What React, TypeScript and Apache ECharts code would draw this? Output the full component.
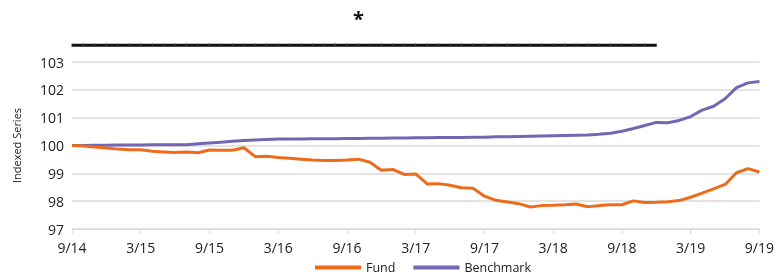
import React, { useEffect, useRef } from "react";
import * as echarts from "echarts";

const months: string[] = [
  "9/14", "10/14", "11/14", "12/14",
  "1/15", "2/15", "3/15", "4/15", "5/15", "6/15", "7/15", "8/15", "9/15", "10/15", "11/15", "12/15",
  "1/16", "2/16", "3/16", "4/16", "5/16", "6/16", "7/16", "8/16", "9/16", "10/16", "11/16", "12/16",
  "1/17", "2/17", "3/17", "4/17", "5/17", "6/17", "7/17", "8/17", "9/17", "10/17", "11/17", "12/17",
  "1/18", "2/18", "3/18", "4/18", "5/18", "6/18", "7/18", "8/18", "9/18", "10/18", "11/18", "12/18",
  "1/19", "2/19", "3/19", "4/19", "5/19", "6/19", "7/19", "8/19", "9/19",
];

const fund: number[] = [
  100.0, 99.98, 99.95, 99.91, 99.87, 99.85, 99.85, 99.79, 99.77, 99.75,
  99.77, 99.74, 99.84, 99.83, 99.83, 99.92, 99.6, 99.61, 99.57, 99.54,
  99.51, 99.48, 99.46, 99.46, 99.48, 99.51, 99.4, 99.11, 99.14, 98.96,
  98.98, 98.62, 98.63, 98.57, 98.48, 98.46, 98.18, 98.03, 97.97, 97.91,
  97.79, 97.84, 97.85, 97.87, 97.9, 97.8, 97.84, 97.87, 97.87, 98.01,
  97.95, 97.96, 97.98, 98.02, 98.14, 98.29, 98.44, 98.6, 99.02, 99.17,
  99.05,
];

const benchmark: number[] = [
  100.0, 100.0, 100.01, 100.01, 100.02, 100.02, 100.02, 100.03, 100.03, 100.03,
  100.03, 100.06, 100.09, 100.12, 100.15, 100.18, 100.2, 100.22, 100.23, 100.23,
  100.23, 100.24, 100.24, 100.24, 100.25, 100.25, 100.26, 100.26, 100.27, 100.27,
  100.28, 100.28, 100.29, 100.29, 100.29, 100.3, 100.3, 100.31, 100.31, 100.32,
  100.33, 100.34, 100.35, 100.36, 100.37, 100.38, 100.4, 100.44, 100.51, 100.61,
  100.72, 100.83, 100.82, 100.9, 101.04, 101.27, 101.41, 101.68, 102.08, 102.25,
  102.3,
];

// significance bar: spans 9/14 through 12/18
const barLevel = 103.6;
const barEndIndex = 51;
const significanceBar: (number | null)[] = months.map((_, i) => (i <= barEndIndex ? barLevel : null));

const yTicks = { min: 97, max: 103, interval: 1 };

export default function App() {
  const ref = useRef<HTMLDivElement>(null);
  useEffect(() => {
    if (!ref.current) return;
    const chart = echarts.init(ref.current, undefined, { renderer: "svg" });
    const font = "'Open Sans', 'Noto Sans', sans-serif";
    chart.setOption({
      animation: false,
      textStyle: { fontFamily: font },
      grid: { left: 72, right: 17, top: 62, bottom: 46, containLabel: false },
      legend: {
        data: ["Fund", "Benchmark"],
        bottom: 1,
        left: 315,
        padding: 0,
        icon: "rect",
        itemWidth: 46,
        itemHeight: 4,
        itemGap: 18,
        textStyle: { fontFamily: font, fontSize: 12.5, color: "#222" },
      },
      graphic: [
        {
          type: "text",
          left: 353,
          top: 8,
          style: { text: "*", fontSize: 20, fontWeight: "bold", fill: "#111", fontFamily: font },
        },
      ],
      xAxis: {
        type: "category",
        data: months,
        boundaryGap: false,
        axisLine: { lineStyle: { color: "#d9d9d9", width: 1 } },
        axisTick: { show: true, interval: 5, length: 5, lineStyle: { color: "#d9d9d9" } },
        axisLabel: { interval: 5, fontSize: 14, color: "#222", margin: 11, fontFamily: font },
        splitLine: { show: false },
      },
      yAxis: {
        type: "value",
        min: yTicks.min,
        max: yTicks.max,
        interval: yTicks.interval,
        name: "Indexed Series",
        nameLocation: "middle",
        nameGap: 50,
        nameTextStyle: { fontSize: 11, color: "#222", fontFamily: font },
        axisLine: { show: false },
        axisTick: { show: false },
        axisLabel: { fontSize: 14, color: "#222", margin: 8, fontFamily: font },
        splitLine: { lineStyle: { color: "#e3e3e3", width: 2 } },
      },
      series: [
        {
          name: "Significance",
          type: "line",
          data: significanceBar,
          clip: false,
          symbol: "rect",
          symbolSize: [1, 3.5],
          showSymbol: true,
          itemStyle: { color: "#444" },
          lineStyle: { color: "#111", width: 3 },
          silent: true,
          z: 5,
        },
        {
          name: "Fund",
          type: "line",
          data: fund,
          showSymbol: false,
          lineStyle: { color: "#EE6B1C", width: 3 },
          itemStyle: { color: "#EE6B1C" },
          z: 4,
        },
        {
          name: "Benchmark",
          type: "line",
          data: benchmark,
          showSymbol: false,
          lineStyle: { color: "#7367B4", width: 3 },
          itemStyle: { color: "#7367B4" },
          z: 3,
        },
      ],
    });
    return () => chart.dispose();
  }, []);
  return (
    <div
      ref={ref}
      style={{ position: "fixed", left: 0, top: 0, width: 777, height: 275 }}
    />
  );
}
